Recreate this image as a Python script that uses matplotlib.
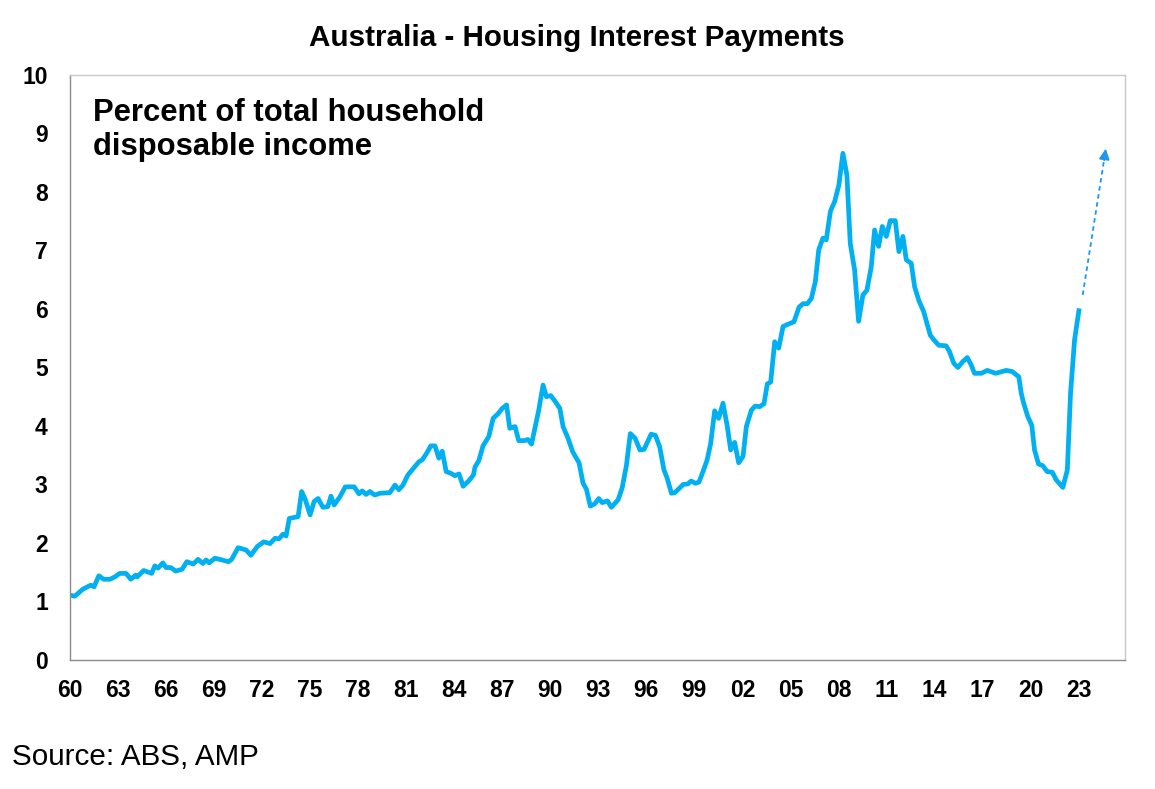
import matplotlib.pyplot as plt

plt.rcParams['font.family'] = ['Liberation Sans', 'DejaVu Sans']

# Housing interest payments, % of household disposable income
years = [
    1960.0, 1960.3, 1960.8, 1961.3, 1961.5, 1961.8, 1962.1, 1962.5, 1962.8, 1963.1,
    1963.5, 1963.8, 1964.1, 1964.2, 1964.6, 1965.1, 1965.3, 1965.5, 1965.8, 1966.0,
    1966.3, 1966.6, 1967.0, 1967.3, 1967.7, 1968.0, 1968.3, 1968.5, 1968.7, 1969.05,
    1969.5, 1969.9, 1970.1, 1970.5, 1971.0, 1971.3, 1971.7, 1972.1, 1972.5, 1972.8,
    1973.05, 1973.3, 1973.5, 1973.7, 1974.25, 1974.47, 1974.7, 1975.0, 1975.25, 1975.5,
    1975.8, 1976.1, 1976.3, 1976.5, 1976.86, 1977.2, 1977.75, 1978.05, 1978.25, 1978.5,
    1978.73, 1979.04, 1979.36, 1979.98, 1980.3, 1980.54, 1980.8, 1981.1, 1981.5, 1981.8,
    1982.0, 1982.27, 1982.54, 1982.8, 1983.04, 1983.25, 1983.5, 1983.8, 1984.04, 1984.3,
    1984.56, 1984.9, 1985.2, 1985.3, 1985.54, 1985.8, 1986.16, 1986.43, 1986.74, 1987.0,
    1987.27, 1987.47, 1987.8, 1988.03, 1988.4, 1988.6, 1988.83, 1989.28, 1989.55, 1989.76,
    1990.03, 1990.28, 1990.6, 1990.8, 1991.11, 1991.4, 1991.8, 1992.05, 1992.26, 1992.5,
    1992.78, 1993.03, 1993.24, 1993.57, 1993.82, 1994.24, 1994.49, 1994.76, 1995.0, 1995.3,
    1995.6, 1995.86, 1996.3, 1996.57, 1996.84, 1997.1, 1997.3, 1997.57, 1997.78, 1998.3,
    1998.6, 1998.8, 1999.07, 1999.29, 1999.54, 1999.8, 2000.02, 2000.27, 2000.52, 2000.79,
    2001.06, 2001.27, 2001.52, 2001.77, 2002.04, 2002.25, 2002.56, 2002.8, 2003.08, 2003.35,
    2003.56, 2003.77, 2004.02, 2004.27, 2004.54, 2004.85, 2005.22, 2005.54, 2005.79, 2006.06,
    2006.31, 2006.56, 2006.77, 2007.03, 2007.24, 2007.5, 2007.77, 2008.03, 2008.28, 2008.53,
    2008.74, 2009.01, 2009.26, 2009.53, 2009.78, 2010.05, 2010.26, 2010.51, 2010.74, 2010.99,
    2011.24, 2011.55, 2011.78, 2012.03, 2012.24, 2012.55, 2012.76, 2013.03, 2013.32, 2013.74,
    2014.0, 2014.27, 2014.73, 2014.94, 2015.21, 2015.46, 2015.77, 2016.05, 2016.3, 2016.5,
    2016.92, 2017.3, 2017.82, 2018.48, 2018.86, 2019.27, 2019.42, 2019.57, 2019.83, 2020.08,
    2020.25, 2020.5, 2020.77, 2021.04, 2021.36, 2021.6, 2022.02, 2022.3, 2022.5, 2022.75,
    2023.02,
]
values = [
    1.11, 1.09, 1.21, 1.28, 1.25, 1.44, 1.38, 1.38, 1.42, 1.48,
    1.48, 1.38, 1.45, 1.42, 1.53, 1.48, 1.61, 1.57, 1.66, 1.58,
    1.58, 1.52, 1.55, 1.68, 1.64, 1.72, 1.65, 1.71, 1.66, 1.74,
    1.71, 1.68, 1.72, 1.92, 1.88, 1.79, 1.94, 2.02, 1.99, 2.08,
    2.07, 2.15, 2.12, 2.42, 2.45, 2.88, 2.74, 2.48, 2.71, 2.76,
    2.61, 2.62, 2.80, 2.65, 2.79, 2.96, 2.96, 2.84, 2.89, 2.83,
    2.88, 2.82, 2.85, 2.86, 2.99, 2.91, 2.99, 3.16, 3.29, 3.39,
    3.42, 3.53, 3.66, 3.66, 3.45, 3.57, 3.22, 3.19, 3.15, 3.18,
    2.97, 3.06, 3.16, 3.30, 3.41, 3.66, 3.82, 4.13, 4.21, 4.30,
    4.36, 3.96, 3.99, 3.75, 3.75, 3.77, 3.69, 4.27, 4.70, 4.50,
    4.52, 4.43, 4.30, 3.99, 3.79, 3.56, 3.37, 3.02, 2.92, 2.63,
    2.67, 2.76, 2.69, 2.72, 2.61, 2.74, 2.94, 3.33, 3.87, 3.79,
    3.59, 3.60, 3.86, 3.84, 3.64, 3.25, 3.11, 2.85, 2.86, 3.00,
    3.01, 3.06, 3.02, 3.04, 3.22, 3.42, 3.70, 4.26, 4.13, 4.39,
    3.99, 3.59, 3.72, 3.37, 3.48, 3.99, 4.27, 4.34, 4.33, 4.38,
    4.72, 4.75, 5.44, 5.33, 5.70, 5.74, 5.78, 6.03, 6.09, 6.09,
    6.18, 6.47, 7.01, 7.21, 7.18, 7.67, 7.84, 8.12, 8.66, 8.29,
    7.12, 6.67, 5.79, 6.24, 6.32, 6.72, 7.35, 7.07, 7.41, 7.24,
    7.51, 7.51, 6.98, 7.24, 6.84, 6.78, 6.38, 6.14, 5.96, 5.55,
    5.46, 5.38, 5.37, 5.27, 5.07, 5.00, 5.10, 5.17, 5.04, 4.90,
    4.90, 4.95, 4.90, 4.95, 4.93, 4.84, 4.56, 4.39, 4.16, 4.01,
    3.59, 3.35, 3.32, 3.22, 3.21, 3.08, 2.95, 3.25, 4.56, 5.47,
    5.97,
]

# projected rise (dashed arrow)
proj_start = (2023.26, 6.24)
proj_end = (2024.7, 8.74)

tick_years = list(range(1960, 2024, 3))
tick_labels = [f"{y % 100:02d}" for y in tick_years]

fig = plt.figure(figsize=(11.55, 7.89), dpi=100)
ax = fig.add_axes([0.0606, 0.1635, 0.9134, 0.7415])

ax.plot(years, values, color='#00B0F0', linewidth=3.4, solid_joinstyle='round')

# dashed projection line with a solid head
arrow_col = '#1E96F0'
ax.plot([proj_start[0], proj_end[0] - 0.08], [proj_start[1], proj_end[1] - 0.15],
        color=arrow_col, linestyle=(0, (2.5, 2)), linewidth=1.3)
ax.annotate('', xy=proj_end, xytext=(proj_end[0] - 0.1, proj_end[1] - 0.2),
            arrowprops=dict(arrowstyle='-|>', color=arrow_col, lw=1.2,
                            mutation_scale=16, shrinkA=0, shrinkB=0))

ax.set_xlim(1960, 2025.9)
ax.set_ylim(0, 10)
ax.set_xticks(tick_years)
ax.set_xticklabels(tick_labels)
ax.set_yticks(range(0, 11))
ax.tick_params(length=0, labelsize=16.5, pad=0)
ax.tick_params(axis='y', pad=16)
ax.tick_params(axis='x', pad=14)
for lab in ax.get_xticklabels() + ax.get_yticklabels():
    lab.set_fontweight('bold')

for side in ['top', 'right']:
    ax.spines[side].set_color('#C8C8C8')
for side in ['left', 'bottom']:
    ax.spines[side].set_color('#8C8C8C')
for sp in ax.spines.values():
    sp.set_linewidth(1.0)

ax.text(0.022, 0.96, "Percent of total household\ndisposable income",
        transform=ax.transAxes, fontsize=22.3, fontweight='bold',
        va='top', ha='left', linespacing=1.15)

fig.text(0.4995, 0.952, "Australia - Housing Interest Payments",
         fontsize=21.3, fontweight='bold', ha='center', va='center')
fig.text(0.010, 0.040, "Source: ABS, AMP", fontsize=21.3, ha='left', va='center')

fig.savefig('out.png', dpi=100)
